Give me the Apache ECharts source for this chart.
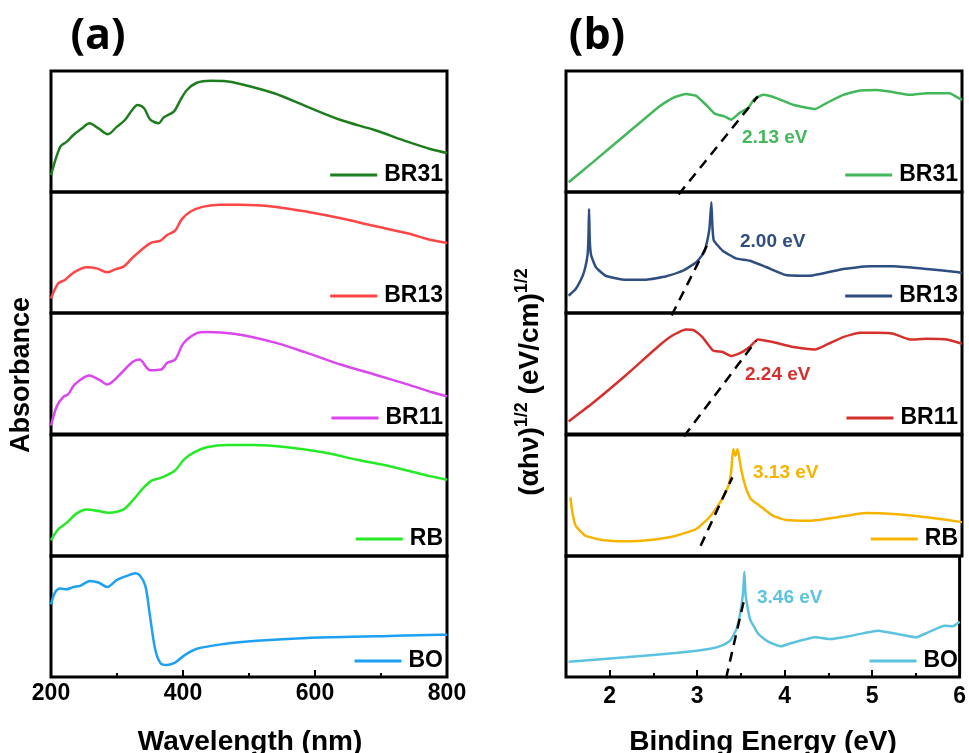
<!DOCTYPE html>
<html>
<head>
<meta charset="utf-8">
<script src="https://cdn.jsdelivr.net/npm/echarts@6/dist/echarts.min.js"></script>
<style>
  html, body { margin: 0; padding: 0; background: #fff; }
  #chart { width: 969px; height: 753px; }
</style>
</head>
<body>
<div id="chart"></div>
<script>
var FONT = '"Liberation Sans", Arial, sans-serif';

// ---- panel (a): absorbance vs wavelength (nm), each trace scaled 0-100 in its own box
var wlBR31 = [200, 214, 224, 234, 247, 258, 272, 286, 300, 312, 323, 331, 341, 350, 363, 371, 386, 396, 406, 421, 442, 462, 487, 538, 588, 639, 690, 740, 776, 800];
var absBR31 = [14, 37.4, 41.6, 47.1, 52.6, 56.8, 52.6, 47.7, 54, 59.5, 67.8, 71.9, 69.2, 60.1, 56.8, 61.7, 66.4, 76, 84.3, 90.3, 92, 91.7, 89.3, 81.6, 70.5, 59.5, 51.2, 41.6, 35.3, 32.2];

var wlBR13 = [200, 211, 221, 234, 254, 269, 285, 297, 310, 325, 350, 366, 376, 388, 398, 411, 431, 457, 487, 538, 588, 639, 690, 740, 776, 800];
var absBR13 = [12, 24.5, 27.3, 33.3, 37.8, 36.9, 33.6, 36.1, 38.3, 46.5, 57.6, 59.8, 64.5, 68, 77.4, 83.7, 87.9, 89.5, 89.5, 87.9, 83.7, 78.3, 71.9, 65.9, 60.3, 57.9];

var wlBR11 = [200, 209, 219, 226, 236, 258, 272, 285, 307, 323, 334, 350, 367, 376, 388, 401, 421, 436, 477, 538, 588, 639, 690, 740, 776, 800];
var absBR11 = [7, 23.2, 30.9, 32.8, 41, 48.4, 45.1, 41, 50.6, 59.3, 61.5, 52.7, 53.3, 58.8, 61.5, 75.2, 83.4, 84.4, 82.8, 75.7, 67, 57.4, 49.2, 41, 34.7, 31.1];

var wlRB = [200, 211, 224, 239, 254, 272, 287, 310, 325, 340, 353, 366, 388, 401, 416, 436, 467, 507, 558, 614, 664, 715, 776, 800];
var absRB = [13, 22.1, 27.6, 35.2, 38.5, 37.1, 35.8, 38.5, 46.7, 56.3, 62.5, 64.5, 70.7, 79.5, 85.5, 89.9, 91.8, 91.8, 89.9, 85.5, 79.5, 74, 65.8, 63.1];

var wlBO = [200, 206, 214, 224, 234, 244, 259, 272, 285, 300, 315, 328, 335, 343, 350, 358, 366, 376, 388, 401, 421, 462, 512, 588, 690, 791, 800];
var absBO = [60, 69.8, 73.1, 72.5, 74.4, 75.3, 79.4, 78.1, 74.4, 80.3, 83.6, 85.8, 83.6, 75.3, 50.3, 22.5, 11.4, 10, 11.9, 17.5, 23.3, 27.3, 30, 32.3, 33.6, 35, 35];

// ---- panel (b): (ahv)^1/2 vs energy (eV)
var evBR31 = [1.53, 1.80, 2.18, 2.56, 2.71, 2.86, 2.98, 3.09, 3.19, 3.30, 3.38, 3.47, 3.57, 3.64, 3.74, 3.89, 4.08, 4.33, 4.46, 4.65, 4.84, 5.03, 5.22, 5.41, 5.60, 5.86, 5.96, 6.0];
var tcBR31 = [8, 24.3, 47.5, 70.7, 77.6, 80.9, 79.5, 72.1, 64.8, 62.5, 59.8, 65.3, 69.4, 76.8, 80.3, 77.6, 72.1, 68.6, 73.5, 80.3, 83.9, 84.4, 82.5, 80.3, 81.7, 81.7, 77.6, 76.2];

var evBR13 = [1.53, 1.61, 1.69, 1.72, 1.745, 1.755, 1.762, 1.770, 1.785, 1.84, 1.95, 2.18, 2.41, 2.64, 2.83, 2.98, 3.07, 3.10, 3.13, 3.152, 3.165, 3.18, 3.28, 3.43, 3.59, 3.78, 4.0, 4.27, 4.65, 4.95, 5.22, 5.6, 5.96, 6.0];
var tcBR13 = [14.3, 19.8, 30.8, 38, 48, 62, 86, 60, 48, 37.8, 30.8, 27.5, 27.5, 30.3, 35, 41.9, 50.2, 58, 70, 91.5, 70, 60, 51.5, 45.2, 43.2, 37.8, 31.4, 30.8, 36.4, 38.6, 38.6, 36.4, 33.6, 33];

var evBR11 = [1.53, 1.80, 2.18, 2.56, 2.71, 2.86, 2.96, 3.05, 3.17, 3.28, 3.38, 3.49, 3.585, 3.68, 3.85, 4.08, 4.33, 4.46, 4.65, 4.84, 5.03, 5.22, 5.41, 5.60, 5.83, 6.0];
var tcBR11 = [10.4, 25.4, 48.6, 73.2, 81.4, 86.3, 85.5, 80.1, 69.1, 67.8, 64.5, 67.2, 71.9, 78.1, 76, 71.9, 69.9, 73.8, 80.1, 83.6, 83.6, 82.8, 78.1, 78.7, 78.1, 74.6];

var evRB = [1.55, 1.572, 1.61, 1.72, 1.91, 2.18, 2.48, 2.75, 2.98, 3.13, 3.24, 3.34, 3.376, 3.40, 3.425, 3.45, 3.49, 3.547, 3.60, 3.70, 3.85, 4.0, 4.27, 4.65, 4.91, 5.22, 5.6, 6.0];
var tcRB = [48.5, 36.1, 25, 16.8, 13.2, 12.1, 13.5, 16.8, 22.3, 32, 43, 56.8, 69.2, 88.4, 82.9, 88.4, 71.9, 55.4, 47.1, 41.6, 33.3, 29.8, 29.2, 32.8, 35.5, 34.7, 32, 28];

var evBO = [1.53, 2.18, 2.75, 3.13, 3.28, 3.376, 3.45, 3.50, 3.528, 3.539, 3.554, 3.604, 3.70, 3.81, 3.96, 4.08, 4.35, 4.53, 4.76, 5.07, 5.29, 5.50, 5.64, 5.83, 5.92, 6.0];
var tcBO = [12.6, 16.3, 19.8, 23.1, 25.9, 30, 39.7, 56.2, 72.7, 87, 67.2, 47.9, 35.5, 29.2, 25.4, 28.1, 32.8, 31.4, 34.1, 38.3, 35.5, 32.8, 36.9, 42.4, 41.9, 45.7];

// tangent (band-gap) lines: [energy, value] end points
var tanBR31 = [[2.78, -2], [3.68, 79]];
var tanBR13 = [[2.70, -2], [3.11, 57]];
var tanBR11 = [[2.84, -2], [3.66, 77]];
var tanRB = [[3.03, 8.5], [3.39, 65]];
var tanBO = [[3.33, -1], [3.53, 62]];

var gapLabels = ['2.13 eV', '2.00 eV', '2.24 eV', '3.13 eV', '3.46 eV'];
var ticksB = [2, 3, 4, 5, 6];

var panelA = [
  { name: 'BR31', x: wlBR31, y: absBR31, color: '#1e7d1e' },
  { name: 'BR13', x: wlBR13, y: absBR13, color: '#ff4545' },
  { name: 'BR11', x: wlBR11, y: absBR11, color: '#dc46f0' },
  { name: 'RB', x: wlRB, y: absRB, color: '#25ea25' },
  { name: 'BO', x: wlBO, y: absBO, color: '#1ea0f5' }
];
var panelB = [
  { name: 'BR31', x: evBR31, y: tcBR31, tan: tanBR31, color: '#43b85a' },
  { name: 'BR13', x: evBR13, y: tcBR13, tan: tanBR13, color: '#2f4e80' },
  { name: 'BR11', x: evBR11, y: tcBR11, tan: tanBR11, color: '#d6302d' },
  { name: 'RB', x: evRB, y: tcRB, tan: tanRB, color: '#f6b400' },
  { name: 'BO', x: evBO, y: tcBO, tan: tanBO, color: '#5cc3df' }
];

// layout
var rowTops = [71, 192, 313, 435, 556];
var rowH = 121;
var legendMid = [175, 296, 418, 539, 661];
var gapPos = [[742, 138], [740, 242], [745, 375], [753, 473], [757, 598]];

function pairs(xs, ys) {
  return xs.map(function (x, i) { return [x, ys[i]]; });
}

var chart = echarts.init(document.getElementById('chart'));
var grids = [], xAxes = [], yAxes = [], series = [], legends = [], graphics = [];

var tickStyle = { color: '#000', width: 2 };
var labelStyle = { color: '#000', fontSize: 23, fontWeight: 'bold', fontFamily: FONT };

[panelA, panelB].forEach(function (panel, p) {
  panel.forEach(function (s, r) {
    var gi = p * 5 + r;
    grids.push({
      left: p === 0 ? 51 : 566, top: rowTops[r], width: 396, height: rowH,
      show: true, borderColor: '#000', borderWidth: 3, backgroundColor: 'transparent'
    });
    var xa = { type: 'value', gridIndex: gi, splitLine: { show: false } };
    if (p === 0) { xa.min = 200; xa.max = 800; xa.interval = 200; }
    else { xa.min = 1.5; xa.max = 6; }
    if (r < 4) {
      xa.show = false;
    } else {
      xa.axisLine = { show: false };
      xa.axisTick = { inside: true, length: 7, lineStyle: tickStyle };
      xa.axisLabel = Object.assign({ margin: p === 0 ? 5 : 8 }, labelStyle);
      if (p === 0) {
        xa.minorTick = { show: true, splitNumber: 2, length: 4, lineStyle: tickStyle };
        xa.minorSplitLine = { show: false };
      } else {
        xa.axisTick.customValues = ticksB;
        xa.axisLabel.customValues = ticksB;
      }
    }
    xAxes.push(xa);
    yAxes.push({ type: 'value', gridIndex: gi, min: 0, max: 100, show: false });

    var key = (p === 0 ? 'a:' : 'b:') + s.name;
    series.push({
      name: key, type: 'line', xAxisIndex: gi, yAxisIndex: gi,
      data: pairs(s.x, s.y), symbol: 'none', smooth: p === 0 ? 0.3 : 0.15,
      lineStyle: { width: 2.5, color: s.color }, itemStyle: { color: s.color },
      silent: true, z: 3
    });
    if (s.tan) {
      series.push({
        name: 'tan' + r, type: 'line', xAxisIndex: gi, yAxisIndex: gi,
        data: s.tan, symbol: 'none', clip: false, silent: true, z: 4,
        lineStyle: { width: 2.5, color: '#000', type: [10, 7] }
      });
      graphics.push({
        type: 'text', x: gapPos[r][0], y: gapPos[r][1],
        style: { text: gapLabels[r], fill: s.color, fontSize: 19, fontWeight: 'bold', fontFamily: FONT,
                 align: 'left', verticalAlign: 'middle' }
      });
    }
    legends.push({
      data: [key], right: p === 0 ? 526 : 11, top: legendMid[r] - 12,
      icon: 'rect', itemWidth: 47, itemHeight: 3, padding: 0, selectedMode: false,
      formatter: function (n) { return n.split(':')[1]; },
      textStyle: { fontSize: 23, fontWeight: 'bold', color: '#000', fontFamily: FONT, lineHeight: 24, padding: [0, 0, 0, 2] }
    });
  });
});

// minor ticks (every 0.5 eV) for the bottom-right box
xAxes.push({
  type: 'value', gridIndex: 9, position: 'bottom', min: 1.5, max: 6, interval: 0.5,
  axisLine: { show: false }, axisLabel: { show: false }, splitLine: { show: false },
  axisTick: { inside: true, length: 4, lineStyle: tickStyle }
});

// titles and axis names
graphics.push(
  { type: 'text', x: 98, y: 37, style: { text: '(a)', fill: '#000', fontSize: 43, fontWeight: 'bold', fontFamily: '"Open Sans", sans-serif', align: 'center', verticalAlign: 'middle' } },
  { type: 'text', x: 597, y: 37, style: { text: '(b)', fill: '#000', fontSize: 43, fontWeight: 'bold', fontFamily: '"Open Sans", sans-serif', align: 'center', verticalAlign: 'middle' } },
  { type: 'text', x: 250, y: 742, style: { text: 'Wavelength (nm)', fill: '#000', fontSize: 28, fontWeight: 'bold', fontFamily: FONT, align: 'center', verticalAlign: 'middle' } },
  { type: 'text', x: 763, y: 742, style: { text: 'Binding Energy (eV)', fill: '#000', fontSize: 28, fontWeight: 'bold', fontFamily: FONT, align: 'center', verticalAlign: 'middle' } },
  { type: 'text', x: 22, y: 375, rotation: Math.PI / 2, style: { text: 'Absorbance', fill: '#000', fontSize: 27, fontWeight: 'bold', fontFamily: FONT, align: 'center', verticalAlign: 'middle' } },
  { type: 'text', x: 530, y: 382, rotation: Math.PI / 2, style: {
      text: '{m|(\u03b1h\u03bd)}{s|1/2}{m| (eV/cm)}{s|1/2}', align: 'center', verticalAlign: 'middle',
      rich: {
        m: { fontSize: 28, fontWeight: 'bold', fontFamily: FONT, fill: '#000', lineHeight: 34 },
        s: { fontSize: 18, fontWeight: 'bold', fontFamily: FONT, fill: '#000', verticalAlign: 'top' }
      }
  } }
);

chart.setOption({
  backgroundColor: '#fff',
  animation: false,
  grid: grids,
  xAxis: xAxes,
  yAxis: yAxes,
  legend: legends,
  series: series,
  graphic: graphics
});
</script>
</body>
</html>
